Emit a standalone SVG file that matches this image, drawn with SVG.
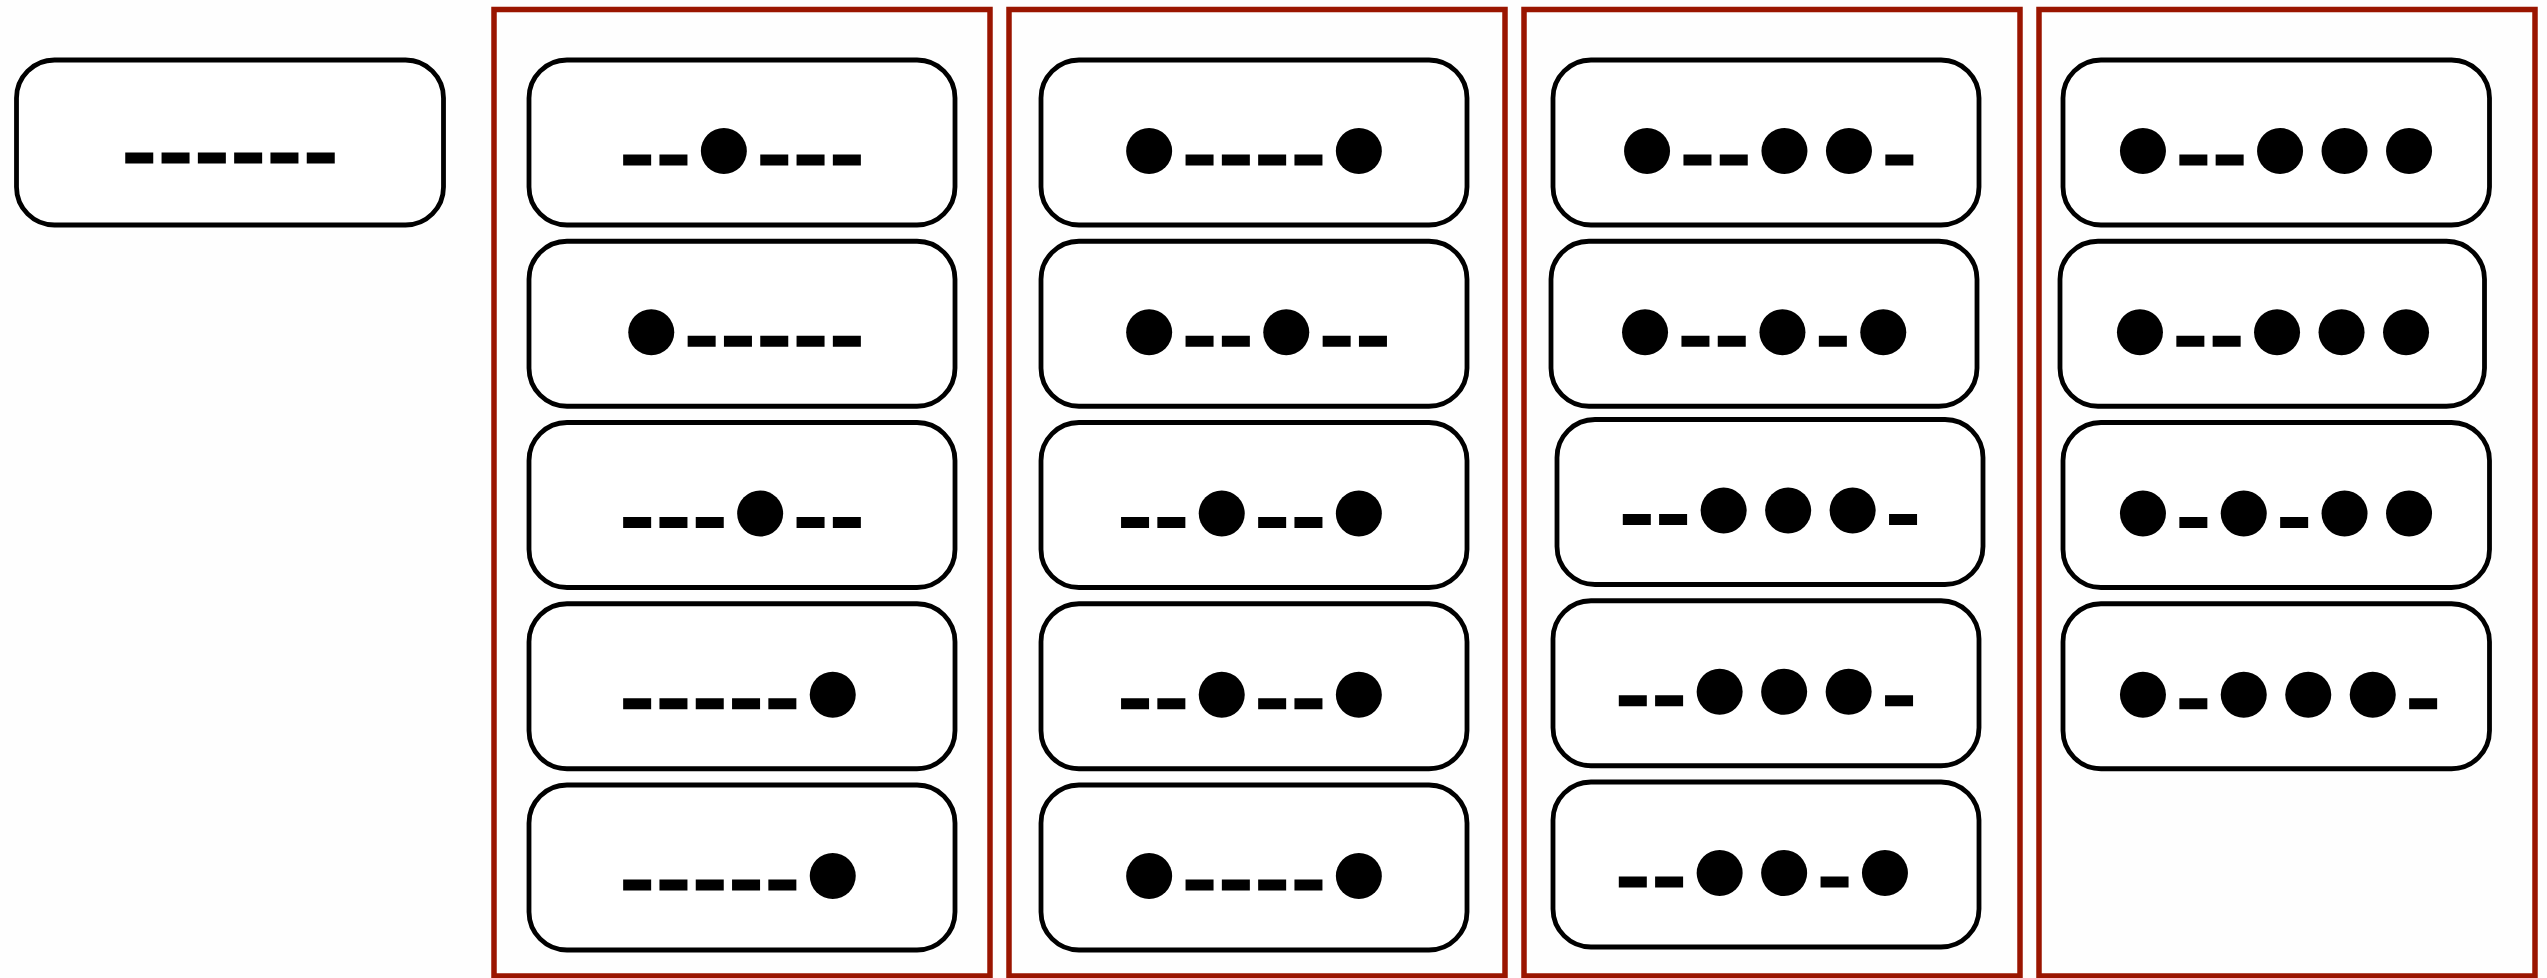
<svg xmlns="http://www.w3.org/2000/svg" width="2547" height="978" viewBox="0 0 2547 978">
<style>
.bg{fill:#fefefe}
.grp{fill:none;stroke:#9a1500;stroke-width:5.5}
.n{fill:#fff;stroke:#000;stroke-width:4.8}
.d{fill:#000}
.c{fill:#000}
</style>
<defs>
<rect id="dash" width="28" height="11" class="d"/>
<ellipse id="dot" rx="23" ry="23" class="c"/>
</defs>
<rect class="bg" x="0" y="0" width="2547" height="978"/>
<g id="groups">
<rect class="grp" x="494" y="9.5" width="496" height="966.5"/>
<rect class="grp" x="1009" y="9.5" width="496" height="966.5"/>
<rect class="grp" x="1524" y="9.5" width="496" height="966.5"/>
<rect class="grp" x="2039" y="9.5" width="496" height="966.5"/>
</g>
<g id="connectors"/>

<g id="n0">
<rect class="n" x="16.5" y="60" width="427" height="165" rx="38"/>
<use href="#dash" x="125.25" y="152.5"/><use href="#dash" x="161.55" y="152.5"/><use href="#dash" x="197.85" y="152.5"/><use href="#dash" x="234.15" y="152.5"/><use href="#dash" x="270.45" y="152.5"/><use href="#dash" x="306.75" y="152.5"/>
</g>

<!-- column 1 -->
<g id="c1r1">
<rect class="n" x="529" y="60" width="426" height="165" rx="38"/>
<use href="#dash" x="623.15" y="154.5"/><use href="#dash" x="659.45" y="154.5"/><use href="#dot" x="723.85" y="151"/><use href="#dash" x="760.25" y="154.5"/><use href="#dash" x="796.55" y="154.5"/><use href="#dash" x="832.85" y="154.5"/>
</g>
<g id="c1r2">
<rect class="n" x="529" y="241.25" width="426" height="165" rx="38"/>
<use href="#dot" x="651.25" y="332.25"/><use href="#dash" x="687.65" y="335.75"/><use href="#dash" x="723.95" y="335.75"/><use href="#dash" x="760.25" y="335.75"/><use href="#dash" x="796.55" y="335.75"/><use href="#dash" x="832.85" y="335.75"/>
</g>
<g id="c1r3">
<rect class="n" x="529" y="422.5" width="426" height="165" rx="38"/>
<use href="#dash" x="623.15" y="517"/><use href="#dash" x="659.45" y="517"/><use href="#dash" x="695.75" y="517"/><use href="#dot" x="760.15" y="513.5"/><use href="#dash" x="796.55" y="517"/><use href="#dash" x="832.85" y="517"/>
</g>
<g id="c1r4">
<rect class="n" x="529" y="603.75" width="426" height="165" rx="38"/>
<use href="#dash" x="623.15" y="698.25"/><use href="#dash" x="659.45" y="698.25"/><use href="#dash" x="695.75" y="698.25"/><use href="#dash" x="732.05" y="698.25"/><use href="#dash" x="768.35" y="698.25"/><use href="#dot" x="832.75" y="694.75"/>
</g>
<g id="c1r5">
<rect class="n" x="529" y="785" width="426" height="165" rx="38"/>
<use href="#dash" x="623.15" y="879.5"/><use href="#dash" x="659.45" y="879.5"/><use href="#dash" x="695.75" y="879.5"/><use href="#dash" x="732.05" y="879.5"/><use href="#dash" x="768.35" y="879.5"/><use href="#dot" x="832.75" y="876"/>
</g>

<!-- column 2 -->
<g id="c2r1">
<rect class="n" x="1041" y="60" width="426" height="165" rx="38"/>
<use href="#dot" x="1149.15" y="151"/><use href="#dash" x="1185.55" y="154.5"/><use href="#dash" x="1221.85" y="154.5"/><use href="#dash" x="1258.15" y="154.5"/><use href="#dash" x="1294.45" y="154.5"/><use href="#dot" x="1358.85" y="151"/>
</g>
<g id="c2r2">
<rect class="n" x="1041" y="241.25" width="426" height="165" rx="38"/>
<use href="#dot" x="1149.15" y="332.25"/><use href="#dash" x="1185.55" y="335.75"/><use href="#dash" x="1221.85" y="335.75"/><use href="#dot" x="1286.25" y="332.25"/><use href="#dash" x="1322.65" y="335.75"/><use href="#dash" x="1358.95" y="335.75"/>
</g>
<g id="c2r3">
<rect class="n" x="1041" y="422.5" width="426" height="165" rx="38"/>
<use href="#dash" x="1121.05" y="517"/><use href="#dash" x="1157.35" y="517"/><use href="#dot" x="1221.75" y="513.5"/><use href="#dash" x="1258.15" y="517"/><use href="#dash" x="1294.45" y="517"/><use href="#dot" x="1358.85" y="513.5"/>
</g>
<g id="c2r4">
<rect class="n" x="1041" y="603.75" width="426" height="165" rx="38"/>
<use href="#dash" x="1121.05" y="698.25"/><use href="#dash" x="1157.35" y="698.25"/><use href="#dot" x="1221.75" y="694.75"/><use href="#dash" x="1258.15" y="698.25"/><use href="#dash" x="1294.45" y="698.25"/><use href="#dot" x="1358.85" y="694.75"/>
</g>
<g id="c2r5">
<rect class="n" x="1041" y="785" width="426" height="165" rx="38"/>
<use href="#dot" x="1149.15" y="876"/><use href="#dash" x="1185.55" y="879.5"/><use href="#dash" x="1221.85" y="879.5"/><use href="#dash" x="1258.15" y="879.5"/><use href="#dash" x="1294.45" y="879.5"/><use href="#dot" x="1358.85" y="876"/>
</g>

<!-- column 3 -->
<g id="c3r1">
<rect class="n" x="1553" y="60" width="426" height="165" rx="38"/>
<use href="#dot" x="1647.05" y="151"/><use href="#dash" x="1683.45" y="154.5"/><use href="#dash" x="1719.75" y="154.5"/><use href="#dot" x="1784.45" y="151"/><use href="#dot" x="1848.95" y="151"/><use href="#dash" x="1885.35" y="154.5"/>
</g>
<g id="c3r2" transform="translate(-2,0)">
<rect class="n" x="1553" y="241.25" width="426" height="165" rx="38"/>
<use href="#dot" x="1647.05" y="332.25"/><use href="#dash" x="1683.45" y="335.75"/><use href="#dash" x="1719.75" y="335.75"/><use href="#dot" x="1784.45" y="332.25"/><use href="#dash" x="1820.85" y="335.75"/><use href="#dot" x="1885.25" y="332.25"/>
</g>
<g id="c3r3" transform="translate(4,-3)">
<rect class="n" x="1553" y="422.5" width="426" height="165" rx="38"/>
<use href="#dash" x="1618.8" y="517"/><use href="#dash" x="1655.1" y="517"/><use href="#dot" x="1719.65" y="513.5"/><use href="#dot" x="1784.15" y="513.5"/><use href="#dot" x="1848.65" y="513.5"/><use href="#dash" x="1885.05" y="517"/>
</g>
<g id="c3r4" transform="translate(0,-3)">
<rect class="n" x="1553" y="603.75" width="426" height="165" rx="38"/>
<use href="#dash" x="1618.8" y="698.25"/><use href="#dash" x="1655.1" y="698.25"/><use href="#dot" x="1719.65" y="694.75"/><use href="#dot" x="1784.15" y="694.75"/><use href="#dot" x="1848.65" y="694.75"/><use href="#dash" x="1885.05" y="698.25"/>
</g>
<g id="c3r5" transform="translate(0,-3)">
<rect class="n" x="1553" y="785" width="426" height="165" rx="38"/>
<use href="#dash" x="1618.8" y="879.5"/><use href="#dash" x="1655.1" y="879.5"/><use href="#dot" x="1719.65" y="876"/><use href="#dot" x="1784.15" y="876"/><use href="#dash" x="1820.55" y="879.5"/><use href="#dot" x="1884.95" y="876"/>
</g>

<!-- column 4 -->
<g id="c4r1">
<rect class="n" x="2063" y="60" width="426.5" height="165" rx="38"/>
<use href="#dot" x="2142.95" y="151"/><use href="#dash" x="2179.35" y="154.5"/><use href="#dash" x="2215.65" y="154.5"/><use href="#dot" x="2280.05" y="151"/><use href="#dot" x="2344.55" y="151"/><use href="#dot" x="2409.05" y="151"/>
</g>
<g id="c4r2" transform="translate(-3,0)">
<rect class="n" x="2063" y="241.25" width="424.5" height="165" rx="38"/>
<use href="#dot" x="2142.95" y="332.25"/><use href="#dash" x="2179.35" y="335.75"/><use href="#dash" x="2215.65" y="335.75"/><use href="#dot" x="2280.05" y="332.25"/><use href="#dot" x="2344.55" y="332.25"/><use href="#dot" x="2409.05" y="332.25"/>
</g>
<g id="c4r3">
<rect class="n" x="2063" y="422.5" width="426.5" height="165" rx="38"/>
<use href="#dot" x="2142.95" y="513.5"/><use href="#dash" x="2179.35" y="517"/><use href="#dot" x="2243.75" y="513.5"/><use href="#dash" x="2280.15" y="517"/><use href="#dot" x="2344.55" y="513.5"/><use href="#dot" x="2409.05" y="513.5"/>
</g>
<g id="c4r4">
<rect class="n" x="2063" y="603.75" width="426.5" height="165" rx="38"/>
<use href="#dot" x="2142.95" y="694.75"/><use href="#dash" x="2179.35" y="698.25"/><use href="#dot" x="2243.75" y="694.75"/><use href="#dot" x="2308.25" y="694.75"/><use href="#dot" x="2372.75" y="694.75"/><use href="#dash" x="2409.15" y="698.25"/>
</g>
</svg>
